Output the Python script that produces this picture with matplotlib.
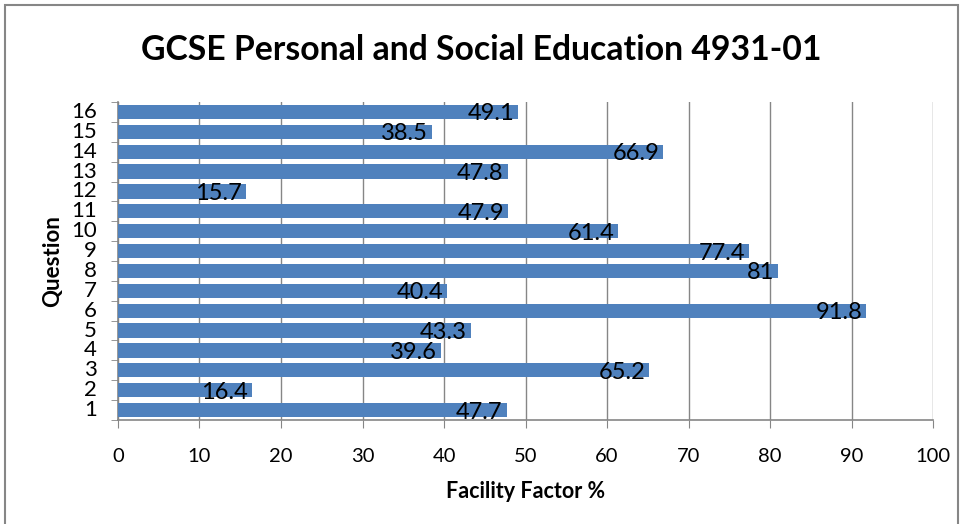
import matplotlib.pyplot as plt
from matplotlib.patches import Rectangle

# ── data ─────────────────────────────
questions = [str(i) for i in range(1, 17)]
facility = [47.7, 16.4, 65.2, 39.6, 43.3, 91.8, 40.4, 81,
            77.4, 61.4, 47.9, 15.7, 47.8, 66.9, 38.5, 49.1]
x_ticks = list(range(0, 101, 10))

plt.rcParams['font.family'] = ['Lato', 'DejaVu Sans']

fig = plt.figure(figsize=(9.63, 5.24), dpi=100)
ax = fig.add_axes([0.1225, 0.1985, 0.8465, 0.6068])

pos = list(range(len(questions)))
ax.barh(pos, facility, height=0.72, color='#4F81BD', zorder=3)

# data labels at inside end of each bar
for y, v in zip(pos, facility):
    ax.text(v - 0.5, y - 0.1, f'{v:g}', ha='right', va='center',
            fontsize=17, color='black', zorder=4)

ax.set_xlim(0, 100)
ax.set_ylim(-0.5, len(questions) - 0.5)
ax.set_xticks(x_ticks)
ax.set_yticks(pos)
ax.set_yticklabels(questions)
ax.set_yticks([p - 0.5 for p in pos] + [len(pos) - 0.5], minor=True)
ax.tick_params(axis='y', which='major', length=0, labelsize=16, pad=15)
ax.tick_params(axis='y', which='minor', length=5, color='#868686')
ax.tick_params(axis='x', length=6, color='#868686', labelsize=14.5, pad=14)
for lbl in ax.get_yticklabels():
    lbl.set_verticalalignment('center')

ax.grid(axis='x', color='#868686', linewidth=1, zorder=0)
for s in ['top', 'right']:
    ax.spines[s].set_visible(False)
for s in ['left', 'bottom']:
    ax.spines[s].set_color('#868686')
    ax.spines[s].set_linewidth(1.2)

ax.set_xlabel('Facility Factor %', fontsize=15.5, fontweight='bold', labelpad=12)
ax.set_ylabel('Question', fontsize=16, fontweight='bold', labelpad=6)

fig.suptitle('GCSE Personal and Social Education 4931-01', fontsize=24.3,
             fontweight='bold', y=0.905, va='center')

# chart area border
fig.patches.append(Rectangle((0.005, -0.01), 0.99, 1.0, transform=fig.transFigure,
                             fill=False, edgecolor='#868686', linewidth=1.5))

fig.savefig('out.png', dpi=100)
